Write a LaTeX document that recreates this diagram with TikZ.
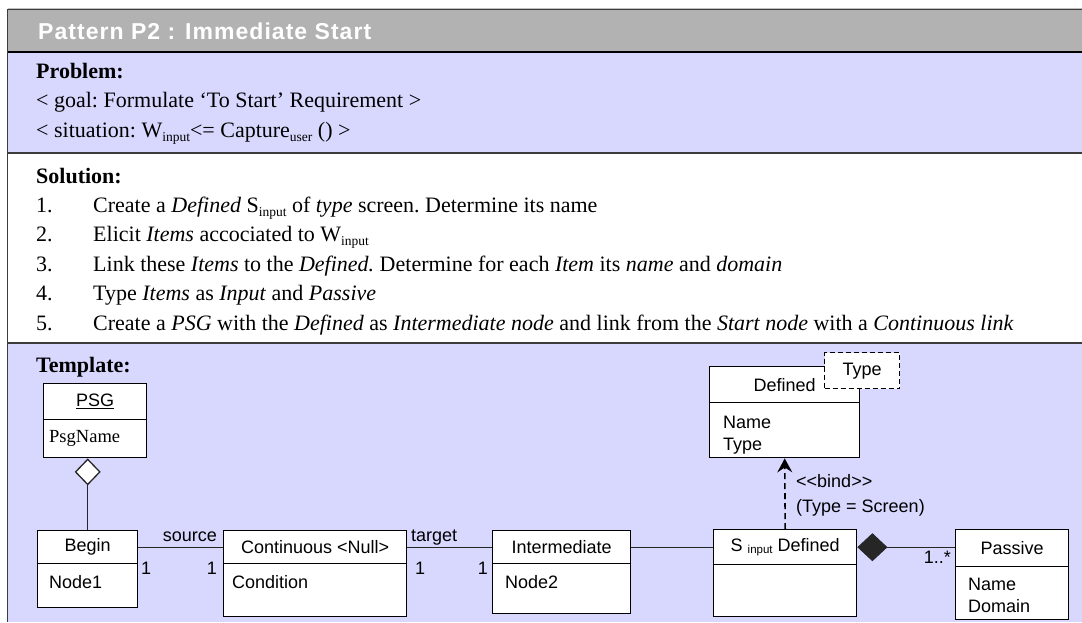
\documentclass[tikz,border=0pt]{standalone}
\usepackage{fontspec}
\setmainfont{Liberation Serif}
\setsansfont{Liberation Sans}
\usetikzlibrary{arrows.meta}
\definecolor{hdrgray}{RGB}{178,178,178}
\definecolor{lblue}{RGB}{216,216,255}
\definecolor{rulegray}{RGB}{60,60,60}
\newcommand\serfont{\fontsize{22}{25}\selectfont\frenchspacing}
\newcommand\umlfont{\sffamily\fontsize{18}{20}\selectfont}
\newcommand\sbs[1]{\raisebox{-0.4ex}{\fontsize{13.5}{14}\selectfont #1}}
\newcommand\usbs[1]{\raisebox{-0.3ex}{\fontsize{11.5}{12}\selectfont #1}}
\begin{document}
\begin{tikzpicture}[x=1pt,y=-1pt,
  stxt/.style={inner sep=0pt, anchor=base west, font=\serfont},
  utxt/.style={inner sep=0pt, anchor=base west, font=\umlfont},
  umlh/.style={draw, fill=white, line width=1.4pt, inner sep=0pt, anchor=north west, font=\umlfont},
  umlb/.style={draw, fill=white, line width=1.4pt, inner sep=0pt, anchor=north west},
  conn/.style={line width=1pt, draw=black!85},
  dconn/.style={line width=1.6pt, draw=black, dash pattern=on 6pt off 4pt},
  sect/.style={line width=1.2pt, draw=rulegray}]
\useasboundingbox (0,0) rectangle (1082,622);
\fill[white] (0,0) rectangle (1082,622);
% section backgrounds
\fill[hdrgray] (7.5,9.5) rectangle (1082,52);
\fill[lblue] (7.5,52) rectangle (1082,153);
\fill[lblue] (7.5,343) rectangle (1082,622);
\draw[line width=0.8pt, draw=black!25] (7.5,8) -- (1082,8);
\draw[line width=1pt, draw=rulegray] (7.5,9.8) -- (1082,9.8);
\draw[line width=2pt, draw=black] (7.5,52) -- (1082,52);
\draw[sect] (7.5,153) -- (1082,153);
\draw[sect] (7.5,343) -- (1082,343);
\draw[sect] (7.5,9) -- (7.5,622);
% header
\node[inner sep=0pt, anchor=base west, text=white, font=\sffamily\bfseries\fontsize{23}{25}\selectfont\addfontfeatures{LetterSpace=4.5}] (title) at (38,39) {Pattern P2 : Immediate Start};
% problem
\node[stxt] (prob) at (36,78) {\textbf{Problem:}};
\node[stxt] (goal) at (36,107.5) {< goal: Formulate ‘To Start’ Requirement >};
\node[stxt] (situ) at (36,137) {< situation: W\sbs{input}<= Capture\sbs{user} () >};
% solution
\node[stxt] (sol) at (36,183) {\textbf{Solution:}};
\node[stxt] (n1) at (36,212.4) {1.};
\node[stxt] (s1) at (93,212.4) {Create a \textit{Defined} S\sbs{input} of \textit{type} screen. Determine its name};
\node[stxt] (n2) at (36,241.8) {2.};
\node[stxt] (s2) at (93,241.8) {Elicit \textit{Items} accociated to W\sbs{input}};
\node[stxt] (n3) at (36,271.2) {3.};
\node[stxt] (s3) at (93,271.2) {Link these \textit{Items} to the \textit{Defined.} Determine for each \textit{Item} its \textit{name} and \textit{domain}};
\node[stxt] (n4) at (36,300.6) {4.};
\node[stxt] (s4) at (93,300.6) {Type \textit{Items} as \textit{Input} and \textit{Passive}};
\node[stxt] (n5) at (36,330) {5.};
\node[stxt] (s5) at (93,330) {Create a \textit{PSG} with the \textit{Defined} as \textit{Intermediate node} and link from the \textit{Start node} with a \textit{Continuous link}};
% template
\node[stxt] (tmpl) at (36,372) {\textbf{Template:}};
% PSG
\node[umlh, minimum width=103pt, minimum height=36pt] (psgH) at (43,383) {\underline{PSG}};
\node[umlb, minimum width=103pt, minimum height=38pt] (psgB) at (43,419) {};
\node[inner sep=0pt, anchor=base west, font=\fontsize{18.5}{20}\selectfont] (psgA) at (49,442) {PsgName};
% Begin
\node[umlh, minimum width=100pt, minimum height=33pt] (beginH) at (37,530) {Begin};
\node[umlb, minimum width=100pt, minimum height=44pt] (beginB) at (37,563) {};
\node[utxt] (beginA) at (49,588) {Node1};
% Continuous
\node[umlh, minimum width=183pt, minimum height=33pt] (contH) at (223,530) {Continuous <Null>};
\node[umlb, minimum width=183pt, minimum height=53pt] (contB) at (223,563) {};
\node[utxt] (contA) at (232,588) {Condition};
% Intermediate
\node[umlh, minimum width=138pt, minimum height=33pt] (interH) at (492,530) {Intermediate};
\node[umlb, minimum width=138pt, minimum height=50pt] (interB) at (492,563) {};
\node[utxt] (interA) at (505,588) {Node2};
% S input Defined
\node[umlh, minimum width=143pt, minimum height=35pt] (sinH) at (713,529) {S \usbs{input} Defined};
\node[umlb, minimum width=143pt, minimum height=52pt] (sinB) at (713,564) {};
% Passive
\node[umlh, minimum width=113pt, minimum height=37pt] (passH) at (955,529) {Passive};
\node[umlb, minimum width=113pt, minimum height=53pt] (passB) at (955,566) {};
\node[utxt] (passA) at (968,590) {Name};
\node[utxt] (passC) at (968,612) {Domain};
% Defined
\node[umlh, minimum width=150pt, minimum height=36pt] (defH) at (709,366) {Defined};
\node[umlb, minimum width=150pt, minimum height=55pt] (defB) at (709,402) {};
\node[utxt] (defA) at (723,428) {Name};
\node[utxt] (defC) at (723,450) {Type};
\node[draw, fill=white, line width=1.4pt, dash pattern=on 5pt off 3pt, inner sep=0pt, anchor=north west, minimum width=75pt, minimum height=36pt, font=\umlfont] (typeBox) at (824,352) {Type};
% connectors
\draw[conn, {Diamond[fill=white, length=27pt, width=26pt, line width=1.3pt]}-] (psgB.south -| beginH.north) -- (beginH.north);
\draw[conn] (beginH.east) -- (contH.west);
\draw[conn] (contH.east) -- (interH.west);
\draw[conn] (interH.east) -- (sinH.west);
\draw[conn, {Diamond[fill=black!85, length=30pt, width=28pt, line width=0.8pt]}-] (sinH.east) -- (sinH.east -| passH.west);
\draw[dconn, -{Stealth[length=14pt, width=15pt, inset=5pt]}] (sinH.north) -- (defB.south);
% labels
\node[utxt, anchor=base east] (lsrc) at (217,541) {source};
\node[utxt] (l1a) at (141,574) {1};
\node[utxt, anchor=base east] (l1b) at (217,574) {1};
\node[utxt] (ltgt) at (411,541) {target};
\node[utxt] (l1c) at (415,574) {1};
\node[utxt, anchor=base east] (l1d) at (488,574) {1};
\node[utxt, anchor=base east] (lmul) at (951,563) {1..*};
\node[utxt] (lbind) at (796,487) {<{}<bind>{}>};
\node[utxt] (lscr) at (796,512) {(Type = Screen)};
\end{tikzpicture}
\end{document}
